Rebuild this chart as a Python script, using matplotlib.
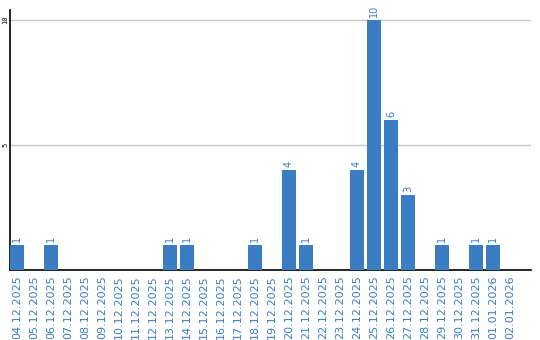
import matplotlib
matplotlib.use("Agg")
import matplotlib.pyplot as plt

dates = ["04.12.2025", "05.12.2025", "06.12.2025", "07.12.2025", "08.12.2025",
         "09.12.2025", "10.12.2025", "11.12.2025", "12.12.2025", "13.12.2025",
         "14.12.2025", "15.12.2025", "16.12.2025", "17.12.2025", "18.12.2025",
         "19.12.2025", "20.12.2025", "21.12.2025", "22.12.2025", "23.12.2025",
         "24.12.2025", "25.12.2025", "26.12.2025", "27.12.2025", "28.12.2025",
         "29.12.2025", "30.12.2025", "31.12.2025", "01.01.2026", "02.01.2026"]
values = [1, 0, 1, 0, 0, 0, 0, 0, 0, 1,
          1, 0, 0, 0, 1, 0, 4, 1, 0, 0,
          4, 10, 6, 3, 0, 1, 0, 1, 1, 0]
yticks = [5, 10]

W, H = 540, 340
fig = plt.figure(figsize=(W / 100, H / 100), dpi=100)
ax = fig.add_axes([10 / W, 1 - 270 / H, (531 - 10) / W, (270 - 10) / H])

blue = "#3b7dc3"
x = list(range(len(dates)))
ax.bar(x, values, width=0.82, color=blue, zorder=3)
for xi, v in zip(x, values):
    if v > 0:
        ax.text(xi, v + 0.12, str(v), rotation=90, ha="center", va="bottom",
                color=blue, fontsize=7, zorder=4)

ax.set_xlim(-0.41, 30.24)
ax.set_ylim(0, 10.4)
ax.set_yticks(yticks)
ax.set_yticklabels([str(t) for t in yticks], rotation=90, fontsize=5,
                   va="center", fontfamily="DejaVu Sans Mono")
ax.tick_params(axis="y", length=0, pad=1.2)
ax.grid(axis="y", color="#c8c8c8", linewidth=1, zorder=0)
ax.set_xticks(x)
ax.set_xticklabels(dates, rotation=90, fontsize=8, color=blue)
ax.tick_params(axis="x", length=0, pad=4)
for s in ["top", "right"]:
    ax.spines[s].set_visible(False)
ax.spines["left"].set_linewidth(1.2)
ax.spines["bottom"].set_linewidth(1.2)

fig.savefig("out.png", dpi=100)
